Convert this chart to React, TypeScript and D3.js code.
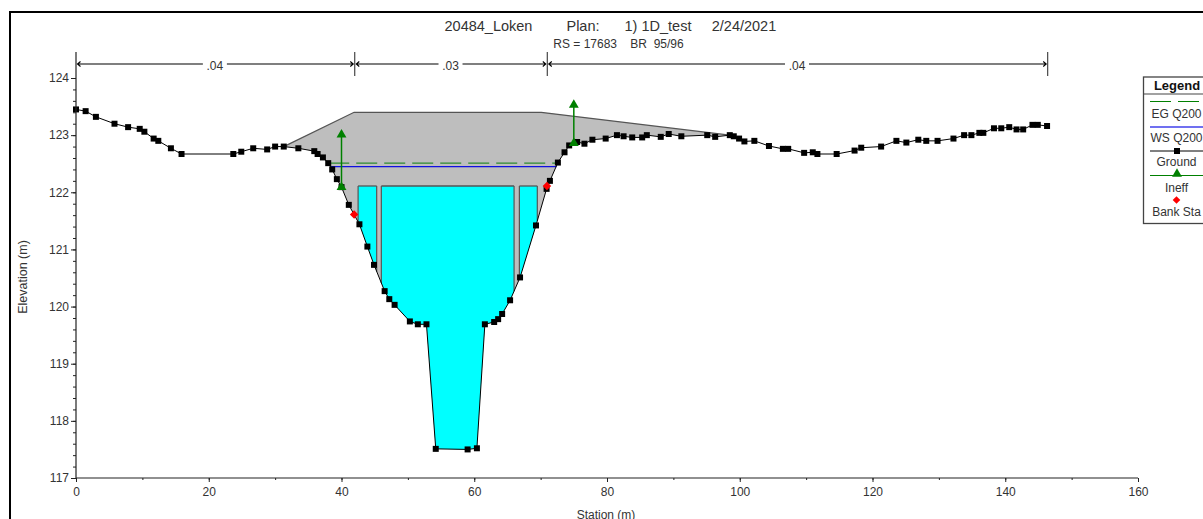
// HEC-RAS style bridge cross section
import React, { useEffect, useRef } from 'react';
import * as d3 from 'd3';

const groundStation = [
  0, 1.45, 3, 5.8, 7.85, 9.6, 10.3, 11.7, 12.4, 14.3, 15.9, 23.7, 24.9, 26.7, 28.8, 30, 31.3, 33.5, 35.9, 36.4,
  37.2, 38, 38.6, 39.3, 40, 41.1, 42.7, 43.9, 44.9, 46.5, 47.2, 48, 50.3, 51.5, 52.8, 54.2, 59, 60.4, 61.6, 63,
  63.6, 64.2, 65.4, 66.9, 69.3, 70.9, 71.4, 72.6, 73.6, 74.3, 75.5, 76.6, 77.8, 79.8, 81.5, 82.5, 83.8, 85.3, 86,
  88.1, 89.3, 91.2, 95.1, 96.3, 98.5, 99.1, 99.9, 100.7, 102.2, 104.4, 106.5, 107.3, 109.7, 111, 111.7, 114.6,
  117.3, 118.3, 121.3, 123.6, 125.1, 126.9, 128.1, 129.8, 132.2, 133.8, 134.9, 136.1, 136.7, 138.3, 139.4, 140.6,
  141.7, 142.7, 144.1, 144.9, 146.3,
];
const groundElevation = [
  123.45, 123.42, 123.32, 123.2, 123.14, 123.11, 123.06, 122.94, 122.9, 122.77, 122.67, 122.67, 122.71, 122.77,
  122.75, 122.8, 122.8, 122.77, 122.72, 122.67, 122.61, 122.51, 122.4, 122.23, 122.09, 121.78, 121.44, 121.05,
  120.73, 120.27, 120.13, 120.03, 119.74, 119.69, 119.69, 117.51, 117.5, 117.52, 119.69, 119.73, 119.78, 119.87,
  120.11, 120.51, 121.42, 122.06, 122.2, 122.52, 122.7, 122.82, 122.88, 122.85, 122.92, 122.94, 123, 122.98, 122.96,
  122.96, 123, 122.97, 123.02, 122.98, 123, 122.97, 123, 122.98, 122.94, 122.89, 122.9, 122.81, 122.76, 122.76,
  122.69, 122.7, 122.67, 122.67, 122.73, 122.78, 122.8, 122.9, 122.87, 122.92, 122.9, 122.9, 122.94, 123, 123,
  123.04, 123.04, 123.12, 123.12, 123.14, 123.1, 123.1, 123.18, 123.18, 123.16,
];

const deckStation = [31.3, 41.9, 70.1, 98.5];
const deckElevation = [122.8, 123.4, 123.4, 123.0];
const lowChord = 122.11;
const openings = [[42.5, 45.3], [46, 66], [66.8, 69.5]];

const egStation = [38, 72.6];
const egElevation = 122.51;
const wsStation = [38.35, 72.4];
const wsElevation = 122.45;

const ineffStation = [40, 75];
const ineffLow = [122.09, 122.86];
const ineffHigh = [123.01, 123.53];

const bankStation = [41.9, 70.95];
const bankElevation = [121.61, 122.11];

const nBreaks = [0, 42, 71, 146.4];
const nValues = ['.04', '.03', '.04'];

const titleParts = ['20484_Loken', 'Plan:', '1) 1D_test', '2/24/2021'];
const legendNames = ['EG Q200', 'WS Q200', 'Ground', 'Ineff', 'Bank Sta'];

const FONT = '"Liberation Sans", Arial, sans-serif';
const TEXT = '#333';

const App = () => {
  const svgRef = useRef<SVGSVGElement>(null);

  useEffect(() => {
    const svg = d3.select(svgRef.current);
    svg.selectAll('*').remove();
    svg.style('font-family', FONT);

    const x = d3.scaleLinear().domain([0, 160]).range([76, 1138]);
    const y = d3.scaleLinear().domain([117, 124]).range([478, 78]);

    const ground: [number, number][] = groundStation.map((s, i) => [s, groundElevation[i]]);
    const line = d3.line<[number, number]>().x(d => x(d[0])).y(d => y(d[1]));
    const triangle = d3.symbol().type(d3.symbolTriangle).size(42);
    const square = d3.symbol().type(d3.symbolSquare).size(36);

    // frame
    svg.append('path').attr('d', 'M10,519V12H1203').attr('fill', 'none').attr('stroke', '#000').attr('stroke-width', 2);

    // bridge deck, gray down to the ground
    const deck: [number, number][] = deckStation.map((s, i) => [s, deckElevation[i]]);
    const under = ground.filter(d => d[0] >= deckStation[0] && d[0] <= deckStation[3]).reverse();
    svg.append('path').attr('d', line([...deck, ...under]) + 'Z').attr('fill', '#bebebe');
    svg.append('path').attr('d', line(deck)).attr('fill', 'none').attr('stroke', '#555').attr('stroke-width', 1.3);

    // openings below the low chord
    const openArea = d3.area<[number, number]>().x(d => x(d[0])).y0(d => y(d[1])).y1(y(lowChord));
    const defs = svg.append('defs');
    openings.forEach((o, i) => {
      defs.append('clipPath').attr('id', `open${i}`).append('rect')
        .attr('x', x(o[0])).attr('width', x(o[1]) - x(o[0])).attr('y', 0).attr('height', 519);
      svg.append('path').attr('d', openArea(ground.filter(d => d[1] <= lowChord + 0.2)))
        .attr('clip-path', `url(#open${i})`).attr('fill', '#00ffff');
      // side and top edges of the opening
      svg.append('path')
        .attr('d', `M${x(o[0])},${y(lowChord)}H${x(o[1])}`)
        .attr('stroke', '#555').attr('stroke-width', 1.3);
    });
    const groundAt = d3.scaleLinear().domain(groundStation).range(groundElevation);
    openings.flat().forEach(s => {
      svg.append('line').attr('x1', x(s)).attr('x2', x(s)).attr('y1', y(lowChord)).attr('y2', y(groundAt(s)))
        .attr('stroke', '#555').attr('stroke-width', 1.2);
    });

    // water surfaces
    svg.append('line').attr('x1', x(egStation[0])).attr('x2', x(egStation[1]))
      .attr('y1', y(egElevation)).attr('y2', y(egElevation))
      .attr('stroke', '#2e8b2e').attr('stroke-width', 1.2).attr('stroke-dasharray', '21 7');
    svg.append('line').attr('x1', x(wsStation[0])).attr('x2', x(wsStation[1]))
      .attr('y1', y(wsElevation)).attr('y2', y(wsElevation))
      .attr('stroke', '#1010e0').attr('stroke-width', 1.3);

    // ground
    svg.append('path').attr('d', line(ground)).attr('fill', 'none').attr('stroke', '#000').attr('stroke-width', 1);
    svg.append('g').selectAll('path').data(ground).join('path')
      .attr('d', square()).attr('transform', d => `translate(${x(d[0])},${y(d[1])})`).attr('fill', '#000');

    // ineffective flow
    ineffStation.forEach((s, i) => {
      svg.append('line').attr('x1', x(s)).attr('x2', x(s)).attr('y1', y(ineffLow[i])).attr('y2', y(ineffHigh[i]))
        .attr('stroke', '#008000').attr('stroke-width', 1.5);
      [ineffLow[i], ineffHigh[i]].forEach(e => {
        svg.append('path').attr('d', triangle()).attr('transform', `translate(${x(s)},${y(e)})`).attr('fill', '#008000');
      });
    });

    // bank stations
    svg.append('g').selectAll('rect').data(bankStation).join('rect')
      .attr('x', -3).attr('y', -3).attr('width', 6).attr('height', 6)
      .attr('transform', (d, i) => `translate(${x(d)},${y(bankElevation[i])}) rotate(45)`).attr('fill', '#ff0000');

    // axes
    const yMajor = d3.axisLeft(y).tickValues(d3.range(117, 125)).tickSize(5).tickPadding(2).tickFormat(d3.format('d'));
    const yMinor = d3.axisLeft(y).tickValues(d3.range(117, 124.01, 0.2)).tickSize(3).tickFormat(() => '');
    const xMajor = d3.axisBottom(x).tickValues(d3.range(0, 161, 20)).tickSize(4).tickPadding(5).tickFormat(d3.format('d'));
    const xMinor = d3.axisBottom(x).tickValues(d3.range(0, 161, 10)).tickSize(2).tickFormat(() => '');
    const place = (g: any, axis: any, t: string) => {
      g.attr('transform', t).call(axis);
      g.select('.domain').remove();
      g.selectAll('line').attr('stroke', '#222');
      g.selectAll('text').attr('fill', TEXT).style('font-size', '12px').style('font-family', FONT);
    };
    place(svg.append('g'), yMinor, 'translate(76,0)');
    place(svg.append('g'), yMajor, 'translate(76,0)');
    place(svg.append('g'), xMinor, 'translate(0,478)');
    place(svg.append('g'), xMajor, 'translate(0,478)');
    svg.append('line').attr('x1', 76).attr('x2', 76).attr('y1', 52).attr('y2', 478).attr('stroke', '#222').attr('stroke-width', 1.2);
    svg.append('line').attr('x1', 76).attr('x2', 1138).attr('y1', 478).attr('y2', 478).attr('stroke', '#222').attr('stroke-width', 1.2);

    // manning n bar
    const barY = 64;
    nBreaks.slice(1).forEach(s => {
      svg.append('line').attr('x1', x(s)).attr('x2', x(s)).attr('y1', 52).attr('y2', 76).attr('stroke', '#222');
    });
    nValues.forEach((n, i) => {
      const a = x(nBreaks[i]);
      const b = x(nBreaks[i + 1]);
      const mid = (a + b) / 2 - 0.5;
      svg.append('path').attr('fill', 'none').attr('stroke', '#000').attr('stroke-width', 1.1)
        .attr('d', `M${a + 1.5},${barY}H${mid - 12}M${mid + 12},${barY}H${b - 1.5}`
          + `M${a + 4.5},${barY - 2.5}L${a + 1.5},${barY}L${a + 4.5},${barY + 2.5}`
          + `M${b - 4.5},${barY - 2.5}L${b - 1.5},${barY}L${b - 4.5},${barY + 2.5}`);
      svg.append('text').attr('x', mid).attr('y', barY + 6).attr('text-anchor', 'middle')
        .attr('fill', TEXT).style('font-size', '12px').text(n);
    });

    // titles
    const label = (t: string, px: number, py: number, size: number, weight = 'normal') =>
      svg.append('text').attr('x', px).attr('y', py).attr('text-anchor', 'middle').attr('fill', TEXT)
        .style('font-size', `${size}px`).style('font-weight', weight).style('white-space', 'pre').text(t);
    const titleCenter = [488.5, 583, 658, 744];
    titleParts.forEach((t, i) => label(t, titleCenter[i], 31, 14.5));
    label('RS = 17683    BR  95/96', 618.5, 48, 12);
    label('Station (m)', 606, 519, 12);
    label('Elevation (m)', 0, 0, 12.5).attr('transform', 'translate(26.5,277) rotate(-90)');

    // legend
    svg.append('rect').attr('x', 1143.5).attr('y', 77).attr('width', 70).attr('height', 146.5)
      .attr('fill', '#fff').attr('stroke', '#444').attr('stroke-width', 1.3);
    svg.append('line').attr('x1', 1143.5).attr('x2', 1203).attr('y1', 94).attr('y2', 94).attr('stroke', '#444').attr('stroke-width', 1.2);
    label('Legend', 1177, 90, 13, 'bold').attr('fill', '#111');
    const nameY = [118, 142, 166, 192, 216];
    legendNames.forEach((n, i) => label(n, 1176.5, nameY[i], 12));
    const sample = (py: number, color: string, width: number, dash?: string) =>
      svg.append('line').attr('x1', 1150).attr('x2', 1203).attr('y1', py).attr('y2', py)
        .attr('stroke', color).attr('stroke-width', width).attr('stroke-dasharray', dash ?? null);
    sample(101.5, '#008000', 1, '21 7');
    sample(127, '#7070f0', 2);
    sample(151, '#000', 1);
    svg.append('path').attr('d', square()).attr('transform', 'translate(1177,151)').attr('fill', '#000');
    sample(175.5, '#008000', 1);
    svg.append('path').attr('d', triangle()).attr('transform', 'translate(1177,174)').attr('fill', '#008000');
    svg.append('rect').attr('x', -2.7).attr('y', -2.7).attr('width', 5.4).attr('height', 5.4)
      .attr('transform', 'translate(1176.5,200) rotate(45)').attr('fill', '#ff0000');
  }, []);

  return <svg ref={svgRef} width={1203} height={519} style={{ position: 'absolute', left: 0, top: 0, background: '#fff' }} />;
};

export default App;
